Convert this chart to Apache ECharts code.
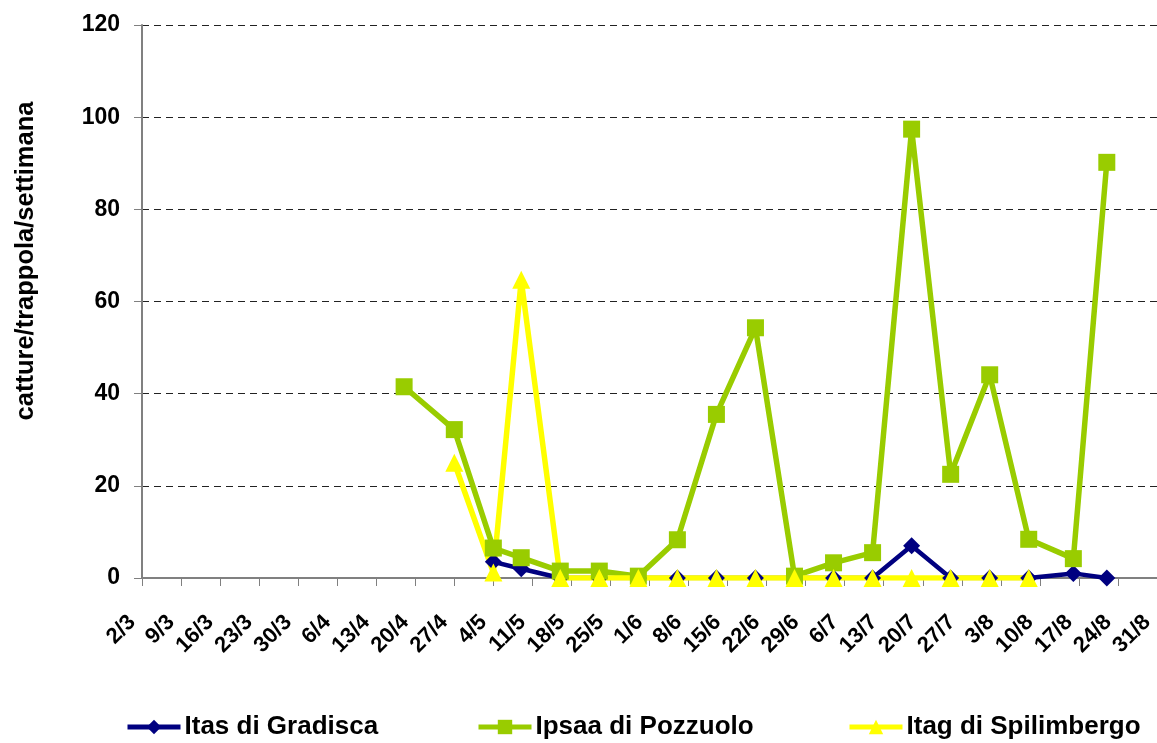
<!DOCTYPE html>
<html>
<head>
<meta charset="utf-8">
<script src="https://cdn.jsdelivr.net/npm/echarts@6/dist/echarts.min.js"></script>
<style>
html,body{margin:0;padding:0;background:#fff;}
#chart{width:1157px;height:743px;}
</style>
</head>
<body>
<div id="chart"></div>
<script>
// Week tick labels (one every 7 days starting at 2/3)
var tickLabels = ['2/3','9/3','16/3','23/3','30/3','6/4','13/4','20/4','27/4','4/5','11/5','18/5','25/5','1/6','8/6','15/6','22/6','29/6','6/7','13/7','20/7','27/7','3/8','10/8','17/8','24/8','31/8'];

// Sampling days (days after 2/3)
var itasDays = [63,68,75,82,89,96,103,110,117,124,131,138,145,152,159,167,173];
var itasValues = [3.5,2,0,0,0,0,0,0,0,0,0,7,0,0,0,1,0];

var ipsaaDays = [47,56,63,68,75,82,89,96,103,110,117,124,131,138,145,152,159,167,173];
var ipsaaValues = [41.5,32.2,6.5,4.4,1.5,1.5,0.4,8.3,35.5,54.3,0.4,3.3,5.5,97.4,22.5,44.1,8.4,4.2,90.2];

var itagDays = [56,63,68,75,82,89,96,103,110,117,124,131,138,145,152,159];
var itagValues = [25,1.2,64.7,0,0,0,0,0,0,0,0,0,0,0,0,0];

var seriesNames = ['Itas di Gradisca','Ipsaa di Pozzuolo','Itag di Spilimbergo'];

function pairs(d, v){ return d.map(function(x,i){ return [x, v[i]]; }); }

var chart = echarts.init(document.getElementById('chart'));
var font = '"Liberation Sans", Arial, sans-serif';
function legendAt(left, name){
  return {
    left: left, top: 709, data: [name], itemWidth: 53, itemHeight: 18, itemGap: 10,
    lineStyle: {width: 5},
    textStyle: {fontFamily: font, fontWeight: 'bold', fontSize: 26, color: '#000', padding: [0,0,0,-1]}
  };
}
chart.setOption({
  animation: false,
  grid: {left: 142, right: 0, top: 25, bottom: 165, outerBoundsMode: 'none', containLabel: false},
  graphic: [{
    type: 'text', x: 26, y: 261, rotation: Math.PI / 2,
    style: {text: 'catture/trappola/settimana', font: 'bold 25.5px ' + font, fill: '#000', textAlign: 'center', textVerticalAlign: 'middle'}
  }],
  legend: [
    legendAt(120, seriesNames[0]),
    legendAt(471, seriesNames[1]),
    legendAt(842, seriesNames[2])
  ],
  xAxis: {
    type: 'value', min: 0, max: 182, interval: 7,
    axisLine: {lineStyle: {color: '#808080', width: 2}},
    axisTick: {show: true, length: 8, lineStyle: {color: '#808080', width: 1}},
    splitLine: {show: false},
    axisLabel: {
      rotate: 45, margin: 31, padding: [0, 14, 0, 0], fontFamily: font, fontWeight: 'bold', fontSize: 22, color: '#000',
      showMinLabel: true, showMaxLabel: true, hideOverlap: false,
      formatter: function(v){ return tickLabels[Math.round(v / 7)]; }
    }
  },
  yAxis: {
    type: 'value', min: 0, max: 120, interval: 20,
    axisLine: {show: true, lineStyle: {color: '#808080', width: 2}},
    axisTick: {show: true, length: 8, inside: false, lineStyle: {color: '#808080', width: 1}},
    splitLine: {show: true, lineStyle: {color: '#222', type: [7, 5], width: 1}},
    axisLabel: {margin: 22, fontFamily: font, fontWeight: 'bold', fontSize: 23, color: '#000'}
  },
  series: [
    {name: seriesNames[0], type: 'line', data: pairs(itasDays, itasValues),
     symbol: 'diamond', symbolSize: 17, showAllSymbol: true,
     lineStyle: {color: '#000080', width: 4.5}, itemStyle: {color: '#000080'}, color: '#000080'},
    {name: seriesNames[1], type: 'line', data: pairs(ipsaaDays, ipsaaValues),
     symbol: 'rect', symbolSize: 17, showAllSymbol: true,
     lineStyle: {color: '#99CC00', width: 5.5}, itemStyle: {color: '#99CC00'}, color: '#99CC00'},
    {name: seriesNames[2], type: 'line', data: pairs(itagDays, itagValues),
     symbol: 'triangle', symbolSize: 18, showAllSymbol: true,
     lineStyle: {color: '#FFFF00', width: 5.5}, itemStyle: {color: '#FFFF00'}, color: '#FFFF00'}
  ]
});
</script>
</body>
</html>
